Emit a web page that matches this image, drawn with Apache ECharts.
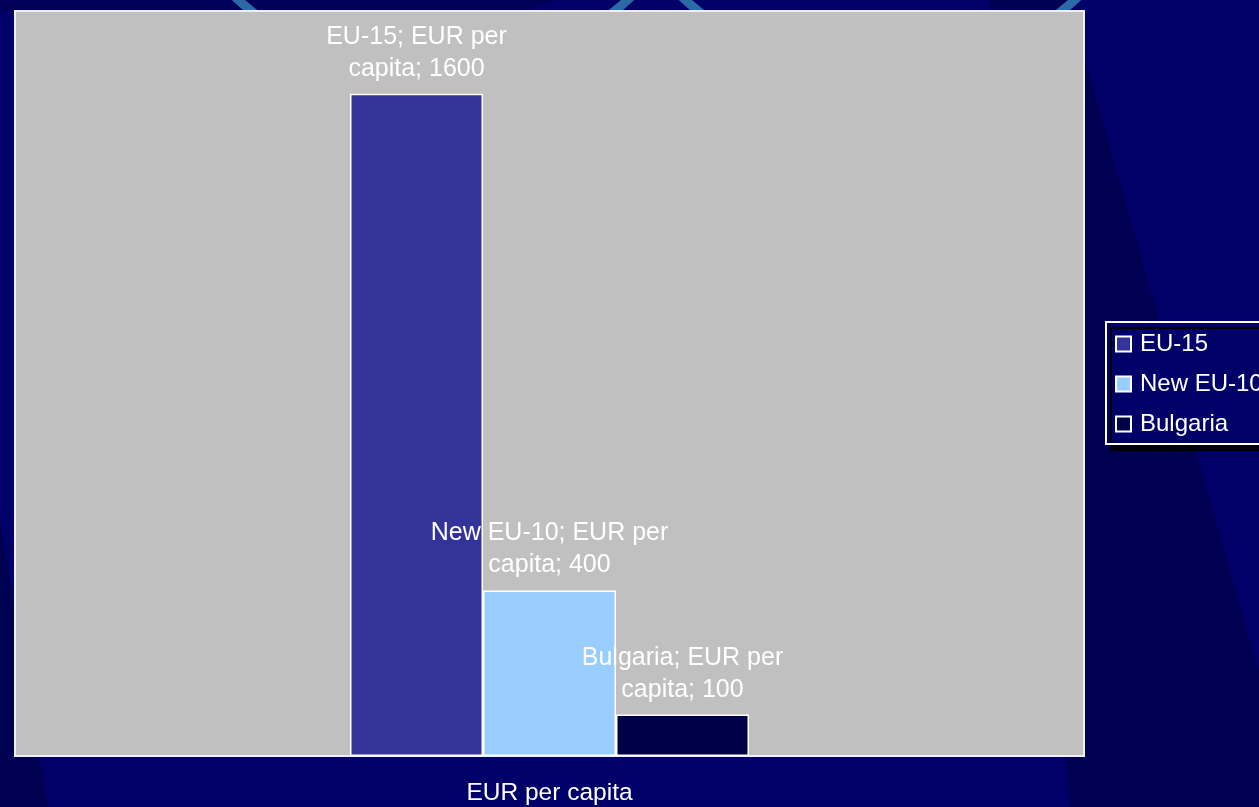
<!DOCTYPE html>
<html>
<head>
<meta charset="utf-8">
<script src="https://cdn.jsdelivr.net/npm/echarts@6/dist/echarts.min.js"></script>
<style>
html,body{margin:0;padding:0;background:#000068;}
#chart{width:1259px;height:807px;}
</style>
</head>
<body>
<div id="chart"></div>
<script>
var categories = ['EUR per capita'];
var seriesNames = ['EU-15', 'New EU-10', 'Bulgaria'];
var eu15 = [1600];
var newEu10 = [400];
var bulgaria = [100];
var seriesColors = ['#333399', '#99CCFF', '#000048'];

var FONT = '"Liberation Sans", Arial, sans-serif';

function labelFormatter(p) {
  var words = p.name.split(' ');
  var last = words.pop();
  return p.seriesName + '; ' + words.join(' ') + '\n' + last + '; ' + p.value;
}

function makeSeries(name, data, color) {
  return {
    name: name,
    type: 'bar',
    data: data,
    barWidth: 133,
    barGap: '0%',
    itemStyle: { color: color, borderColor: '#ffffff', borderWidth: 1.5 },
    label: {
      show: true,
      position: 'top',
      distance: 9,
      color: '#ffffff',
      fontSize: 25,
      lineHeight: 32,
      fontFamily: FONT,
      align: 'center',
      formatter: labelFormatter
    }
  };
}

var chart = echarts.init(document.getElementById('chart'), null, { renderer: 'canvas' });
chart.setOption({
  backgroundColor: '#000068',
  animation: false,
  graphic: [
    { type: 'polygon', z: -30, silent: true,
      shape: { points: [[990, 0], [1068, 0], [1259, 672], [1259, 807], [1070, 807]] },
      style: { fill: '#000052' } },
    { type: 'polygon', z: -30, silent: true,
      shape: { points: [[0, 0], [560, 0], [520, 11], [0, 11]] },
      style: { fill: '#000058' } },
    { type: 'polygon', z: -30, silent: true,
      shape: { points: [[0, 520], [48, 807], [0, 807]] },
      style: { fill: '#000050' } },
    { type: 'circle', z: -20, silent: true,
      shape: { cx: 433, cy: -215, r: 290 },
      style: { fill: 'none', stroke: '#2C6AA6', lineWidth: 9 } },
    { type: 'circle', z: -20, silent: true,
      shape: { cx: 880, cy: -215, r: 290 },
      style: { fill: 'none', stroke: '#2C6AA6', lineWidth: 9 } }
  ],
  grid: {
    left: 15, top: 11, right: 175, bottom: 51,
    show: true,
    backgroundColor: '#C0C0C0',
    borderColor: '#F0F0F4',
    borderWidth: 2,
    z: 1
  },
  legend: {
    orient: 'vertical',
    left: 1106,
    top: 322,
    icon: 'rect',
    itemWidth: 15,
    itemHeight: 15,
    itemGap: 16,
    padding: [10, 12, 8, 9],
    borderColor: '#ffffff',
    borderWidth: 2,
    backgroundColor: '#000068',
    shadowColor: '#000000',
    shadowBlur: 0,
    shadowOffsetX: 5,
    shadowOffsetY: 6,
    textStyle: { color: '#ffffff', fontSize: 24, lineHeight: 24, fontFamily: FONT, padding: [0, 0, 0, 4] },
    data: seriesNames
  },
  xAxis: {
    type: 'category',
    data: categories,
    axisLine: { show: false },
    axisTick: { show: false },
    splitLine: { show: false },
    axisLabel: { color: '#ffffff', fontSize: 24.5, fontFamily: FONT, margin: 25 }
  },
  yAxis: {
    type: 'value',
    min: 0,
    max: 1800,
    show: false,
    splitLine: { show: false }
  },
  series: [
    makeSeries(seriesNames[0], eu15, seriesColors[0]),
    makeSeries(seriesNames[1], newEu10, seriesColors[1]),
    makeSeries(seriesNames[2], bulgaria, seriesColors[2])
  ]
});
</script>
</body>
</html>
